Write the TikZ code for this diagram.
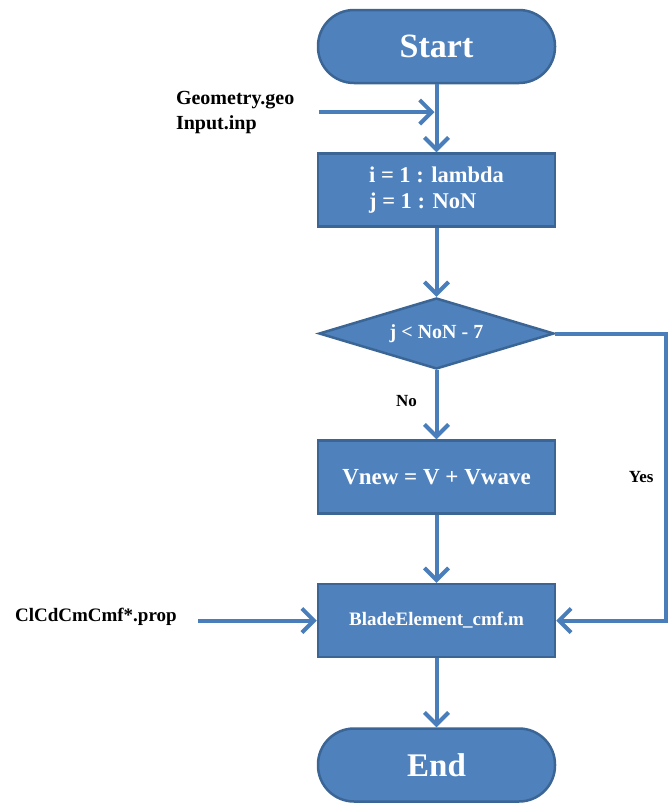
\documentclass[tikz,border=0pt]{standalone}
\usepackage{fontspec}
\setmainfont{Liberation Serif}
\usetikzlibrary{arrows.meta,  % arrow tips
  positioning,                % relative placement of nodes
  shapes.geometric}           % diamond

\definecolor{boxblue}{HTML}{4F81BD}
\definecolor{boxedge}{HTML}{3A6594}
\definecolor{flowblue}{HTML}{4A7EBB}

\begin{document}
\begin{tikzpicture}[x=1pt,y=1pt,node distance=143.5pt,on grid,
  >={Straight Barb[length=12pt,width=24pt]},
  % global: centre-to-centre distance of the boxes in the main column
  % the main styles:
  terminal/.style={rectangle,rounded corners=36pt,minimum width=237pt,minimum height=73pt,
    draw=boxedge,line width=2.5pt,fill=boxblue,text=white,font=\bfseries\fontsize{34}{40}\selectfont},
  process/.style={rectangle,minimum width=237pt,minimum height=73pt,
    draw=boxedge,line width=2.5pt,fill=boxblue,text=white,font=\bfseries\fontsize{22.5}{26}\selectfont},
  decision/.style={diamond,aspect=3.3,minimum width=235pt,minimum height=71pt,inner sep=0pt,
    draw=boxedge,line width=2.5pt,fill=boxblue,text=white,font=\bfseries\fontsize{20}{22}\selectfont},
  flow/.style={->,draw=flowblue,line width=4pt},
  infile/.style={font=\bfseries\fontsize{20}{25}\selectfont,align=left},
  answer/.style={font=\bfseries\fontsize{17}{20}\selectfont}]

  \useasboundingbox (0,0) rectangle (668,-804);

  \node [terminal] (start) at (436.5,-46.5) {Start};
  \node [process,align=left] (init) [below=of start] {i = 1 : lambda\\j = 1 : NoN};
  \node [decision] (dec) [below=of init] {j < NoN - 7};
  \node [process,font=\bfseries\fontsize{23}{26}\selectfont] (vnew) [below=of dec] {Vnew = V + Vwave};
  \node [process,font=\bfseries\fontsize{19}{22}\selectfont] (blade) [below=of vnew] {BladeElement\_cmf.m};
  \node [terminal,font=\bfseries\fontsize{33}{40}\selectfont] (end) [below=of blade,yshift=-1pt] {End};

  % input files
  \node [infile,anchor=west] (geo) at (172.5,-112.5) {Geometry.geo\\Input.inp};
  \node [infile,anchor=west,font=\bfseries\fontsize{19}{25}\selectfont] (clcd) at (11.5,-617) {ClCdCmCmf*.prop};

  % main column
  \draw [flow] (start) -- (init);
  \draw [flow] (init) -- (dec);
  \draw [flow] (dec) -- node [answer,pos=0.45,xshift=-30pt] {No} (vnew);
  \draw [flow] (vnew) -- (blade);
  \draw [flow] (blade) -- (end);

  % side inputs
  \draw [flow,shorten <=21pt,shorten >=2pt] (geo.east |- 0,-112) -- (start |- 0,-112);
  \draw [flow,shorten <=18pt] (clcd.east |- blade) -- (blade.west);

  % loop back on Yes
  \path (dec.east) ++(111,0) coordinate (loop);
  \draw [flow] (dec.east) -- (loop) |- node [answer,pos=0.25,xshift=-25pt] {Yes} (blade.east);

\end{tikzpicture}
\end{document}
